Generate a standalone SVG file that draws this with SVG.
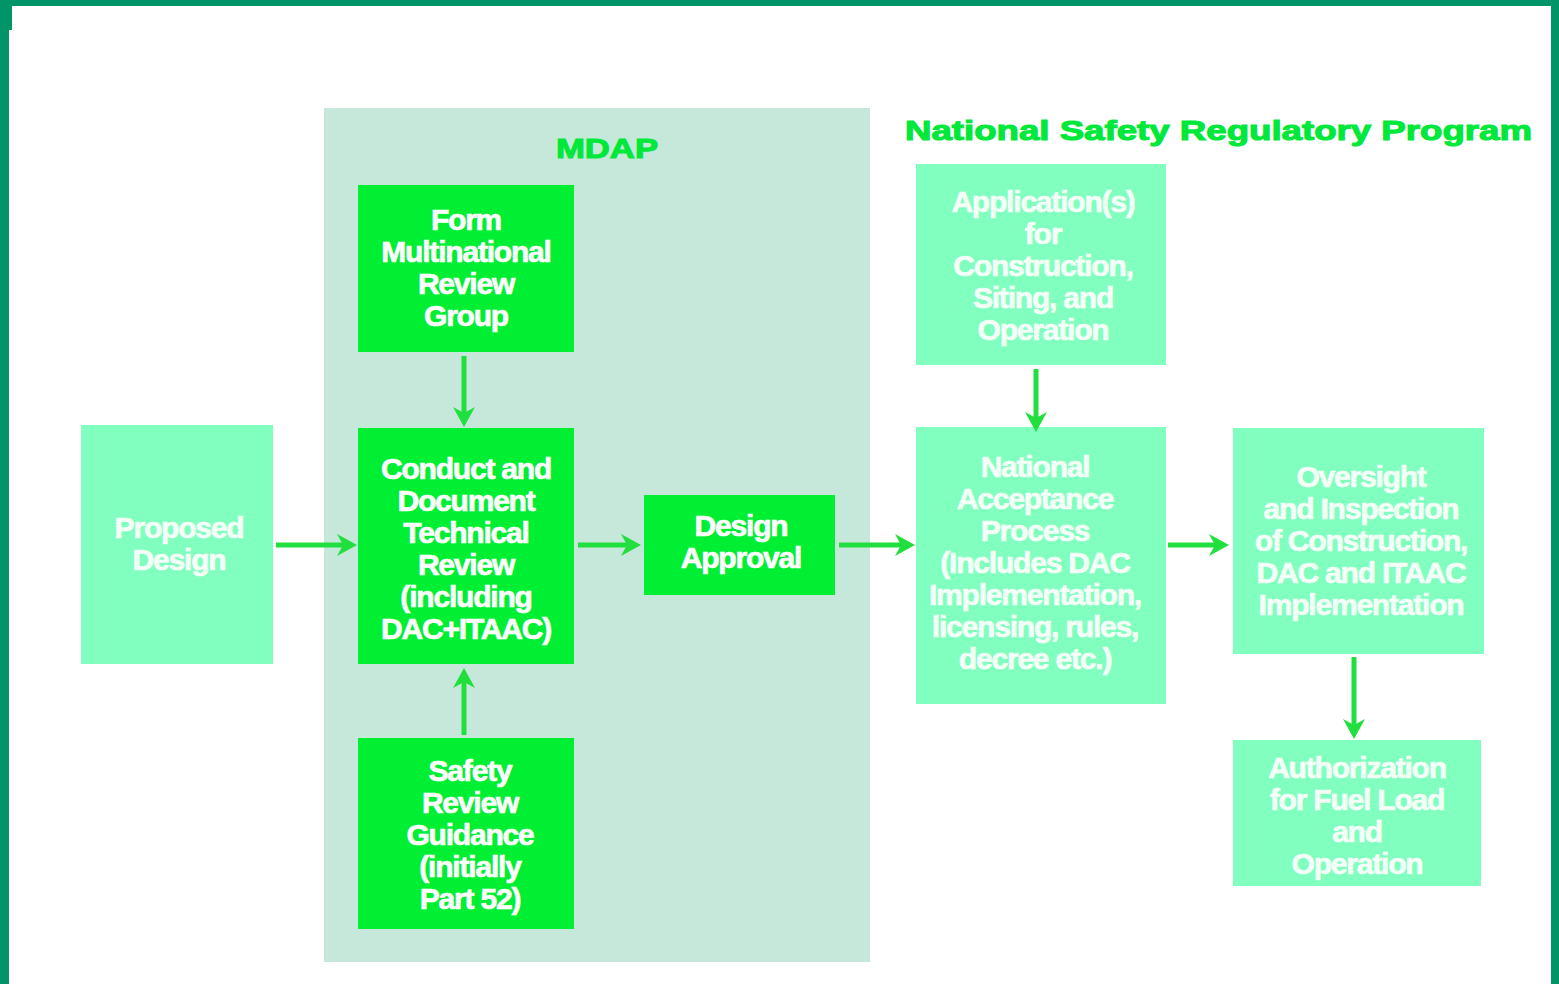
<svg xmlns="http://www.w3.org/2000/svg" width="1559" height="984" viewBox="0 0 1559 984">
<defs>
<style>
.frame{fill:#009466}
.panel{fill:#c6e8db}
.dark{fill:#00ef33}
.light{fill:#80ffbf}
.t{font-family:"Liberation Sans",Arial,sans-serif;font-weight:bold;font-size:30px;letter-spacing:-1.2px;fill:#ffffff;stroke:#ffffff;stroke-width:0.7px;text-anchor:middle}
.lt{fill:#f4fff8;stroke:#f4fff8}
.head{font-family:"Liberation Sans",Arial,sans-serif;font-weight:bold;fill:#00e83a;stroke:#00e83a;stroke-width:1.1px}
.conn{stroke:#20df3e;stroke-width:5;fill:none;marker-end:url(#ah)}
</style>
<marker id="ah" markerUnits="userSpaceOnUse" viewBox="0 -12 22 24" refX="7" refY="0" markerWidth="22" markerHeight="24" orient="auto">
<path d="M0,-11 L20,0 L0,11 L6,0 Z" fill="#20df3e"/>
</marker>
</defs>
<rect width="1559" height="984" fill="#ffffff"/>
<g id="frame">
<rect class="frame" x="0" y="0" width="1559" height="6"/>
<rect class="frame" x="0" y="0" width="12" height="30"/>
<rect class="frame" x="0" y="0" width="9" height="984"/>
<rect class="frame" x="1551" y="0" width="8" height="984"/>
</g>
<g id="mdap">
<rect class="panel" x="324" y="108" width="546" height="854"/>
<text class="head" x="607" y="158" font-size="28" text-anchor="middle" textLength="102" lengthAdjust="spacingAndGlyphs">MDAP</text>
</g>
<g id="nsrp-title">
<text class="head" x="905" y="140" font-size="28" textLength="627" lengthAdjust="spacingAndGlyphs">National Safety Regulatory Program</text>
</g>
<g id="proposed">
<rect class="light" x="81" y="425" width="192" height="239"/>
<text class="t lt" x="179" y="538">Proposed</text>
<text class="t lt" x="179" y="570">Design</text>
</g>
<g id="form">
<rect class="dark" x="358" y="185" width="216" height="167"/>
<text class="t" x="466" y="230">Form</text>
<text class="t" x="466" y="262">Multinational</text>
<text class="t" x="466" y="294">Review</text>
<text class="t" x="466" y="326">Group</text>
</g>
<g id="conduct">
<rect class="dark" x="358" y="428" width="216" height="236"/>
<text class="t" x="466" y="479">Conduct and</text>
<text class="t" x="466" y="511">Document</text>
<text class="t" x="466" y="543">Technical</text>
<text class="t" x="466" y="575">Review</text>
<text class="t" x="466" y="607">(including</text>
<text class="t" x="466" y="639">DAC+ITAAC)</text>
</g>
<g id="safety">
<rect class="dark" x="358" y="738" width="216" height="191"/>
<text class="t" x="470" y="781">Safety</text>
<text class="t" x="470" y="813">Review</text>
<text class="t" x="470" y="845">Guidance</text>
<text class="t" x="470" y="877">(initially</text>
<text class="t" x="470" y="909">Part 52)</text>
</g>
<g id="design-approval">
<rect class="dark" x="644" y="495" width="191" height="100"/>
<text class="t" x="741" y="536">Design</text>
<text class="t" x="741" y="568">Approval</text>
</g>
<g id="applications">
<rect class="light" x="916" y="164" width="250" height="201"/>
<text class="t lt" x="1043" y="212">Application(s)</text>
<text class="t lt" x="1043" y="244">for</text>
<text class="t lt" x="1043" y="276">Construction,</text>
<text class="t lt" x="1043" y="308">Siting, and</text>
<text class="t lt" x="1043" y="340">Operation</text>
</g>
<g id="national-acceptance">
<rect class="light" x="916" y="427" width="250" height="277"/>
<text class="t lt" x="1035" y="477">National</text>
<text class="t lt" x="1035" y="509">Acceptance</text>
<text class="t lt" x="1035" y="541">Process</text>
<text class="t lt" x="1035" y="573">(Includes DAC</text>
<text class="t lt" x="1035" y="605">Implementation,</text>
<text class="t lt" x="1035" y="637">licensing, rules,</text>
<text class="t lt" x="1035" y="669">decree etc.)</text>
</g>
<g id="oversight">
<rect class="light" x="1233" y="428" width="251" height="226"/>
<text class="t lt" x="1361" y="487">Oversight</text>
<text class="t lt" x="1361" y="519">and Inspection</text>
<text class="t lt" x="1361" y="551">of Construction,</text>
<text class="t lt" x="1361" y="583">DAC and ITAAC</text>
<text class="t lt" x="1361" y="615">Implementation</text>
</g>
<g id="authorization">
<rect class="light" x="1233" y="740" width="248" height="146"/>
<text class="t lt" x="1357" y="778">Authorization</text>
<text class="t lt" x="1357" y="810">for Fuel Load</text>
<text class="t lt" x="1357" y="842">and</text>
<text class="t lt" x="1357" y="874">Operation</text>
</g>
<g id="connectors">
<path class="conn" d="M276,545 H344"/>
<path class="conn" d="M578,545 H628"/>
<path class="conn" d="M839,545 H902"/>
<path class="conn" d="M1168,545 H1216"/>
<path class="conn" d="M464,356 V414"/>
<path class="conn" d="M464,735 V681"/>
<path class="conn" d="M1036,369 V419"/>
<path class="conn" d="M1354,657 V726"/>
</g>
</svg>
